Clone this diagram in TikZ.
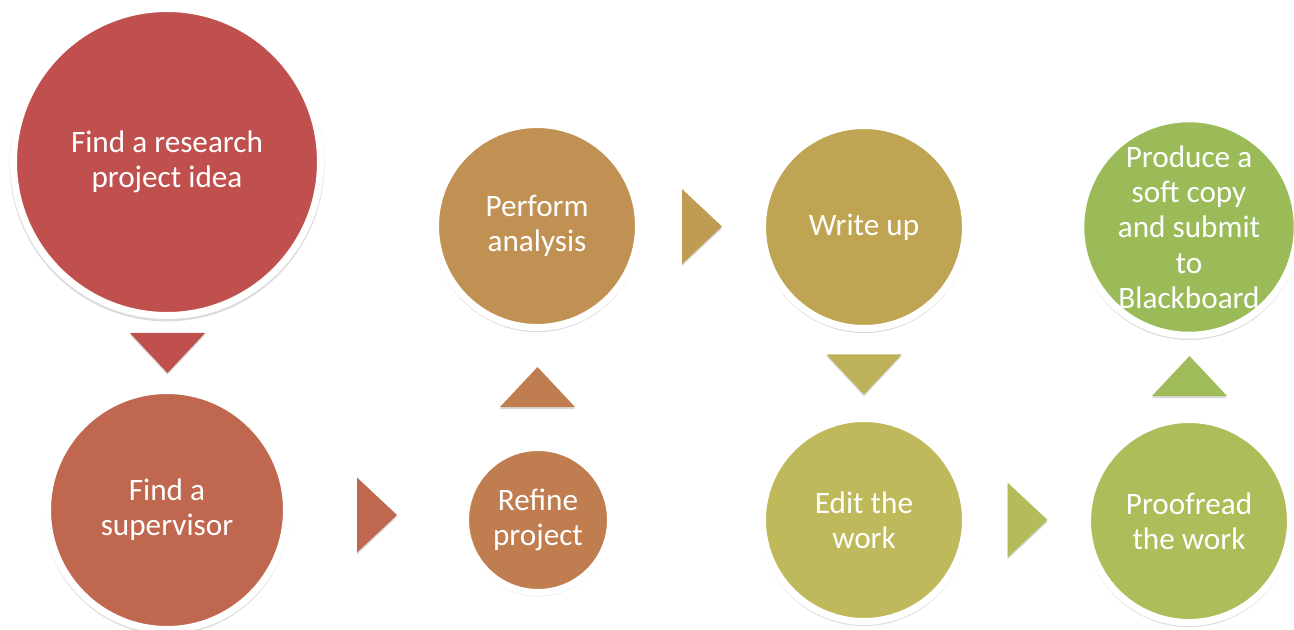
\documentclass[tikz,border=0pt]{standalone}
\usepackage{fontspec}
\setmainfont{Carlito}
\usetikzlibrary{shadows}

\definecolor{stageA}{HTML}{C0504D}
\definecolor{stageB}{HTML}{C0684F}
\definecolor{stageC}{HTML}{C07D50}
\definecolor{stageD}{HTML}{C09152}
\definecolor{stageE}{HTML}{BFA553}
\definecolor{stageF}{HTML}{BEB95A}
\definecolor{stageG}{HTML}{AFBC5A}
\definecolor{stageH}{HTML}{9BBB59}
\definecolor{triD}{HTML}{BF9B54}
\definecolor{triE}{HTML}{BDB25A}
\definecolor{triF}{HTML}{B3BB5A}
\definecolor{triG}{HTML}{A0BB59}

\def\downtri{(-37.5,-20) -- (37.5,-20) -- (0,20) -- cycle}

\tikzset{
  stage/.style={circle, draw=white, line width=5.25pt, inner sep=0pt,
    text=white, align=center,
    font=\fontsize{23.4}{26.5}\selectfont,
    drop shadow={shadow scale=1.025, shadow xshift=0pt, shadow yshift=-1.5pt, opacity=.14, fill=black}},
  rad/.style={minimum size={(2*#1+7)*0.75pt}},
  pointer/.style={drop shadow={shadow xshift=0pt, shadow yshift=-1.5pt, opacity=.15, fill=black}}
}

\begin{document}
\begin{tikzpicture}[x=0.75pt, y=-0.75pt]
  \useasboundingbox (0,0) rectangle (1294,630);

  % stages
  \node[stage, rad=150, fill=stageA] (idea)       at (167,162)  {Find a research\\project idea};
  \node[stage, rad=116, fill=stageB] (supervisor) at (167,510)  {Find a\\supervisor};
  \node[stage, rad=69,  fill=stageC] (refine)     at (538,520)  {Refine\\project};
  \node[stage, rad=98,  fill=stageD] (analysis)   at (537,226)  {Perform\\analysis};
  \node[stage, rad=98,  fill=stageE] (writeup)    at (864,227)  {Write up};
  \node[stage, rad=98,  fill=stageF] (edit)       at (864,520)  {Edit the\\work};
  \node[stage, rad=98,  fill=stageG] (proofread)  at (1189,521) {Proofread\\the work};
  \node[stage, rad=103, fill=stageH] (submit)     at (1189,227) {Produce a\\soft copy\\and submit\\to\\Blackboard};

  % pointers between stages
  \fill[stageA, pointer, shift={(167.5,353)}]               \downtri;
  \fill[stageB, pointer, shift={(377,515)}, rotate=90]      \downtri;
  \fill[stageC, pointer, shift={(537.5,387)}, rotate=180]   \downtri;
  \fill[triD,   pointer, shift={(702,226.5)}, rotate=90]    \downtri;
  \fill[triE,   pointer, shift={(864,374.5)}]               \downtri;
  \fill[triF,   pointer, shift={(1027.5,520)}, rotate=90]   \downtri;
  \fill[triG,   pointer, shift={(1189.5,376)}, rotate=180]  \downtri;
\end{tikzpicture}
\end{document}
